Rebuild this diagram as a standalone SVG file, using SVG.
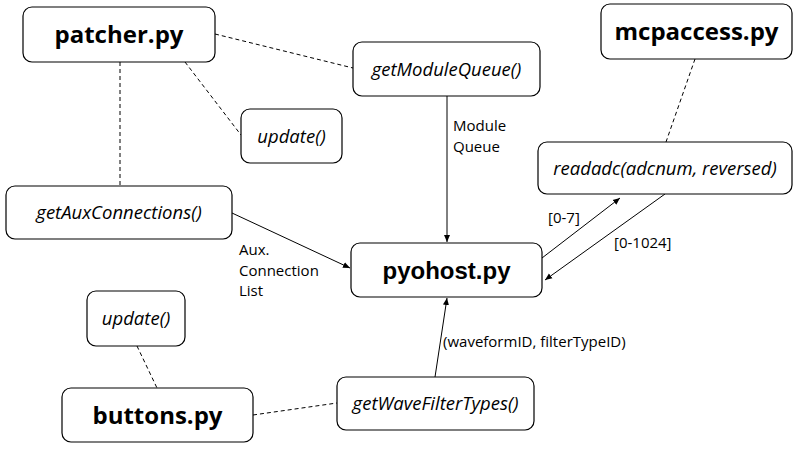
<svg xmlns="http://www.w3.org/2000/svg" width="799" height="449" viewBox="0 0 799 449">
<defs>
<marker id="ah" markerWidth="8" markerHeight="8" refX="7" refY="4" orient="auto" markerUnits="userSpaceOnUse">
<path d="M0,1 L7,4 L0,7 Z" fill="#000"/>
</marker>
<style>
.box{fill:#fff;stroke:#000;stroke-width:1.2}
.big{font-family:"Open Sans",sans-serif;font-weight:bold;font-size:24px;text-anchor:middle;fill:#000}
.fn{font-family:"Open Sans",sans-serif;font-style:italic;font-size:18.5px;text-anchor:middle;fill:#000}
.lbl{font-family:"Open Sans",sans-serif;font-size:15px;fill:#000}
.dash{stroke:#000;stroke-width:1;stroke-dasharray:4,3;fill:none}
.arr{stroke:#000;stroke-width:1;fill:none;marker-end:url(#ah)}
</style>
</defs>
<rect width="799" height="449" fill="#fff"/>
<g id="connectors">
<line class="dash" x1="215" y1="34" x2="353" y2="68"/>
<line class="dash" x1="185" y1="62" x2="241" y2="135"/>
<line class="dash" x1="120" y1="62" x2="120" y2="186"/>
<line class="dash" x1="695" y1="59" x2="666" y2="142"/>
<line class="dash" x1="253" y1="415" x2="337" y2="403"/>
<line class="dash" x1="137" y1="346" x2="157" y2="388"/>
<line class="arr" x1="232" y1="213" x2="350" y2="268"/>
<line class="arr" x1="447" y1="96" x2="447" y2="242"/>
<line class="arr" x1="542" y1="258" x2="620" y2="198"/>
<line class="arr" x1="665" y1="194" x2="545" y2="280"/>
<line class="arr" x1="435" y1="377" x2="447" y2="298"/>
<text class="lbl" x="453" y="131">Module<tspan x="453" y="151.5">Queue</tspan></text>
<text class="lbl" x="239" y="255">Aux.<tspan x="239" y="275.5">Connection</tspan><tspan x="239" y="296">List</tspan></text>
<text class="lbl" x="548" y="223">[0-7]</text>
<text class="lbl" x="614" y="248">[0-1024]</text>
<text class="lbl" x="443" y="347">(waveformID, filterTypeID)</text>
</g>
<g id="patcher"><rect class="box" x="23" y="7" width="192" height="55" rx="9"/><text class="big" x="119" y="43">patcher.py</text></g>
<g id="getModuleQueue"><rect class="box" x="353" y="42" width="187" height="54" rx="9"/><text class="fn" x="446.5" y="76">getModuleQueue()</text></g>
<g id="update1"><rect class="box" x="241" y="109" width="101" height="54" rx="9"/><text class="fn" x="291.5" y="143">update()</text></g>
<g id="getAuxConnections"><rect class="box" x="6" y="186" width="226" height="53" rx="9"/><text class="fn" x="119" y="219">getAuxConnections()</text></g>
<g id="mcpaccess"><rect class="box" x="601" y="4" width="191" height="55" rx="9"/><text class="big" x="696.5" y="40">mcpaccess.py</text></g>
<g id="readadc"><rect class="box" x="538" y="142" width="254" height="52" rx="9"/><text class="fn" x="665" y="175">readadc(adcnum, reversed)</text></g>
<g id="pyohost"><rect class="box" x="351" y="243" width="191" height="54" rx="9"/><text class="big" style="font-family:'Liberation Sans',sans-serif" x="446.5" y="279">pyohost.py</text></g>
<g id="getWaveFilterTypes"><rect class="box" x="337" y="377" width="197" height="53" rx="9"/><text class="fn" x="435.5" y="410">getWaveFilterTypes()</text></g>
<g id="update2"><rect class="box" x="87" y="291" width="98" height="55" rx="9"/><text class="fn" x="136" y="325">update()</text></g>
<g id="buttons"><rect class="box" x="62" y="388" width="191" height="54" rx="9"/><text class="big" x="157.5" y="424">buttons.py</text></g>
</svg>
